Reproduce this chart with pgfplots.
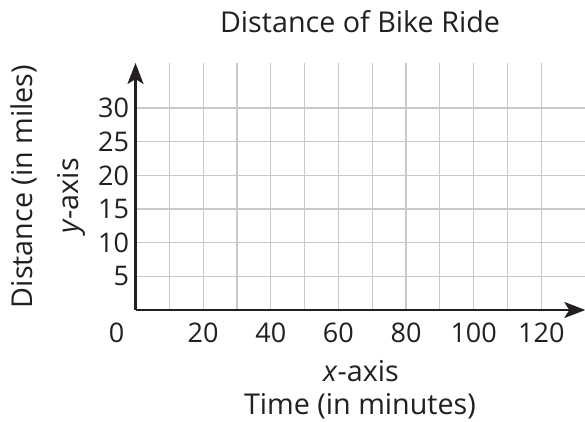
\documentclass[border=0pt]{standalone}
\usepackage{pgfplots}
\pgfplotsset{compat=1.18}
\usepackage{fontspec}
\setmainfont{Open Sans}
\usetikzlibrary{arrows.meta}
\definecolor{ink}{HTML}{231F20}
\definecolor{gridc}{HTML}{C8C9CB}
\begin{document}
\begin{tikzpicture}[x=1pt,y=1pt]
\useasboundingbox (-135.5,-112) rectangle (449.5,310);
\begin{axis}[
  anchor=origin, at={(0,0)},
  x=3.382pt, y=6.73pt,
  xmin=0, xmax=133, ymin=0, ymax=36.7,
  axis lines=left,
  axis line style={line width=2.6pt, draw=ink, -{Stealth[length=21pt,width=16pt,inset=5pt]}},
  xtick={10,20,...,120},
  xticklabels={,20,,40,,60,,80,,100,,120},
  ytick={5,10,...,30},
  /pgf/number format/assume math mode=true,
  grid=major,
  major grid style={draw=gridc, line width=1.2pt},
  major tick length=0pt,
  tick style={draw=none},
  ticklabel style={font=\fontsize{27}{27}\selectfont, text=ink},
  xticklabel style={anchor=base, yshift=-32pt},
  yticklabel style={anchor=east, xshift=-3pt},
]
\addplot[draw=none] coordinates {(0,0) (133,36.7)};
\end{axis}
\begin{scope}[every node/.style={font=\fontsize{28.7}{28.7}\selectfont, text=ink, inner sep=0pt}]
\node[anchor=base] at (224.5,277) {Distance of Bike Ride};
\node[anchor=base] at (-19,-32) {\fontsize{27}{27}\selectfont 0};
\node[anchor=base] at (225.5,-71) {\textit{x}-axis};
\node[anchor=base] at (224.5,-104.5) {Time (in minutes)};
\node[rotate=90, anchor=base] at (-102.5,123.5) {Distance (in miles)};
\node[rotate=90, anchor=base] at (-57.5,114) {\textit{y}-axis};
\end{scope}
\end{tikzpicture}
\end{document}
